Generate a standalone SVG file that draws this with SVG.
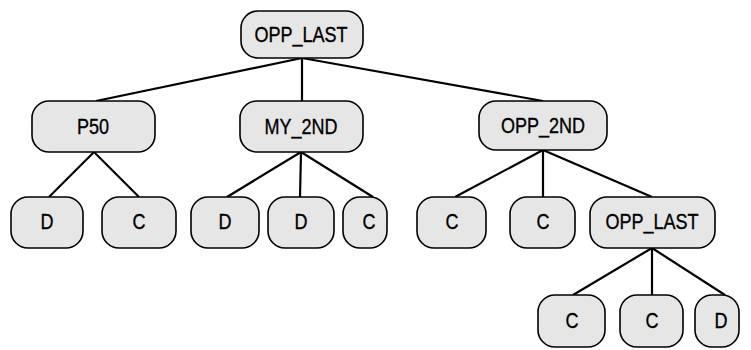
<svg xmlns="http://www.w3.org/2000/svg" width="751" height="350" viewBox="0 0 751 350">
<style>
.n rect{fill:#e6e6e6;stroke:#000;stroke-width:1.6}
.n text{font-family:"Liberation Sans",Arial,sans-serif;font-size:22px;text-anchor:middle;fill:#000;stroke:#000;stroke-width:0.35}
#edges line{stroke:#000;stroke-width:2.2}
</style>
<rect width="751" height="350" fill="#fff"/>
<g id="edges">
<line x1="302" y1="58" x2="96" y2="101"/>
<line x1="302" y1="58" x2="302" y2="101"/>
<line x1="302" y1="58" x2="543" y2="101"/>
<line x1="94" y1="152" x2="49" y2="197"/>
<line x1="94" y1="152" x2="139" y2="197"/>
<line x1="301" y1="152" x2="227" y2="197"/>
<line x1="301" y1="152" x2="300" y2="197"/>
<line x1="301" y1="152" x2="373" y2="197"/>
<line x1="543" y1="150" x2="455" y2="197"/>
<line x1="543" y1="150" x2="543" y2="197"/>
<line x1="543" y1="150" x2="652" y2="197"/>
<line x1="652" y1="248" x2="573" y2="295"/>
<line x1="652" y1="248" x2="652" y2="295"/>
<line x1="652" y1="248" x2="725" y2="295"/>
</g>
<g id="root" class="n"><rect x="241" y="11" width="122" height="47" rx="17"/><text transform="translate(301,42) scale(0.82,1)">OPP_LAST</text></g>
<g id="p50" class="n"><rect x="32" y="101" width="123" height="51" rx="17"/><text transform="translate(93,134) scale(0.82,1)">P50</text></g>
<g id="my2nd" class="n"><rect x="240" y="101" width="123" height="51" rx="17"/><text transform="translate(301,134) scale(0.82,1)">MY_2ND</text></g>
<g id="opp2nd" class="n"><rect x="479" y="101" width="128" height="49" rx="17"/><text transform="translate(543,133) scale(0.82,1)">OPP_2ND</text></g>
<g id="d1" class="n"><rect x="11" y="197" width="72" height="51" rx="17"/><text transform="translate(47,229) scale(0.82,1)">D</text></g>
<g id="c1" class="n"><rect x="102" y="197" width="74" height="51" rx="17"/><text transform="translate(139,229) scale(0.82,1)">C</text></g>
<g id="d2" class="n"><rect x="191" y="197" width="68" height="51" rx="17"/><text transform="translate(225,229) scale(0.82,1)">D</text></g>
<g id="d3" class="n"><rect x="268" y="197" width="66" height="51" rx="17"/><text transform="translate(301,229) scale(0.82,1)">D</text></g>
<g id="c2" class="n"><rect x="343" y="197" width="44" height="51" rx="17"/><text transform="translate(369,229) scale(0.82,1)">C</text></g>
<g id="c3" class="n"><rect x="417" y="197" width="69" height="51" rx="17"/><text transform="translate(452,229) scale(0.82,1)">C</text></g>
<g id="c4" class="n"><rect x="510" y="197" width="65" height="51" rx="17"/><text transform="translate(543,229) scale(0.82,1)">C</text></g>
<g id="opplast2" class="n"><rect x="590" y="197" width="125" height="51" rx="17"/><text transform="translate(652,229) scale(0.82,1)">OPP_LAST</text></g>
<g id="c5" class="n"><rect x="538" y="295" width="67" height="52" rx="17"/><text transform="translate(572,328) scale(0.82,1)">C</text></g>
<g id="c6" class="n"><rect x="620" y="295" width="63" height="52" rx="17"/><text transform="translate(652,328) scale(0.82,1)">C</text></g>
<g id="d4" class="n"><rect x="695" y="295" width="44" height="52" rx="17"/><text transform="translate(721,328) scale(0.82,1)">D</text></g>
</svg>
